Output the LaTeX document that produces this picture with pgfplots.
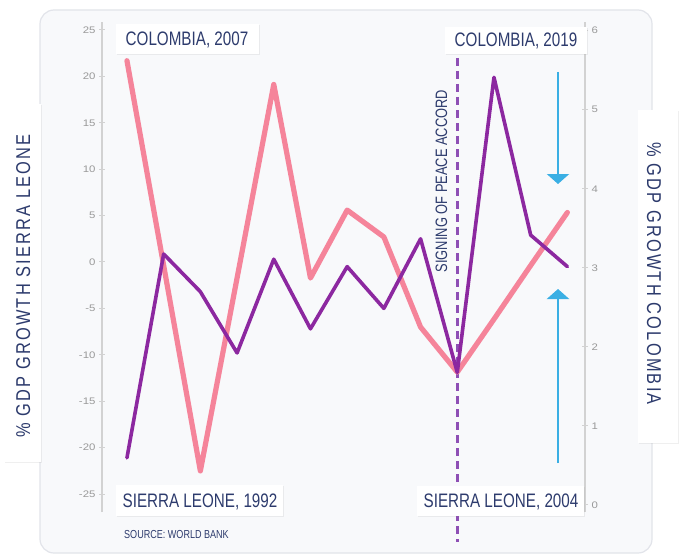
\documentclass[border=0pt]{standalone}
\usepackage{fontspec}
\setmainfont{Liberation Sans}[FakeStretch=0.78]
\newfontfamily\axfont{Liberation Sans}[FakeStretch=0.82,LetterSpace=11]
\newfontfamily\tickfont{Liberation Sans}[FakeStretch=1.2]
\usepackage{pgfplots}
\pgfplotsset{compat=1.18}
\usetikzlibrary{shadows,arrows.meta}
\definecolor{navy}{HTML}{2D3B6D}
\definecolor{pinkc}{HTML}{F5849A}
\definecolor{purplec}{HTML}{8C28A0}
\definecolor{dashc}{HTML}{8E4FB5}
\definecolor{bluec}{HTML}{3AAFE4}
\definecolor{tickgray}{HTML}{999999}
\definecolor{axisgray}{HTML}{D2D2D2}
\definecolor{cardbg}{HTML}{F8F9FB}
\definecolor{cardborder}{HTML}{E2E4EA}

\pgfplotstableread{
i v
0 -21.1
1 0.86
2 -3.2
3 -9.8
4 0.3
5 -7.2
6 -0.5
7 -5.0
8 2.5
9 -11.9
10 19.9
11 2.9
12 -0.5
}\sierra

\pgfplotstableread{
i v
0 5.62
1 3.03
2 0.43
3 2.87
4 5.32
5 2.87
6 3.73
7 3.39
8 2.25
9 1.68
10 2.35
11 3.03
12 3.70
}\colombia

\pgfplotsset{
  common/.style={
    at={(102pt,-512pt)}, anchor=south west,
    width=483pt, height=490pt, scale only axis,
    xmin=-0.68, xmax=12.48,
    axis x line=none,
    tick align=outside, major tick length=6pt,
    ytick style={draw=axisgray, line width=1pt},
    yticklabel style={font=\tickfont\fontsize{9.5}{10}\selectfont, text=tickgray},
    /pgf/number format/assume math mode=true,
    clip=false,
  },
  lineoff/.style={
    y axis line style={-, draw=axisgray, line width=1.2pt},
    every outer y axis line/.append style={-, draw=axisgray, line width=1.2pt},
    every inner y axis line/.append style={-},
  }
}

\begin{document}
\begin{tikzpicture}[x=1pt,y=1pt]
\useasboundingbox (0,0) rectangle (684,-559);
\fill[white] (0,0) rectangle (684,-559);
\draw[cardborder, fill=cardbg, rounded corners=14pt, line width=1.2pt] (40,-10) rectangle (652,-553);

% dashed line (peace accord)
\draw[dashc, line width=2.5pt, dash pattern=on 8pt off 5pt] (457.5,-32) -- (457.5,-542);

% Colombia, right axis
\begin{axis}[common, ymin=-0.09, ymax=6.11, axis y line=right, ytick pos=right, ytick={0,1,2,3,4,5,6}, lineoff]
\addplot[pinkc, line width=5.2pt, line cap=round, line join=round] table[x=i,y=v] {\colombia};
\end{axis}

% Sierra Leone, left axis
\begin{axis}[common, ymin=-26.94, ymax=25.86, axis y line=left, ytick pos=left, ytick={-25,-20,...,25}, lineoff]
\addplot[purplec, line width=3.6pt, line cap=round, line join=round] table[x=i,y=v] {\sierra};
\end{axis}

% blue arrows
\draw[bluec, line width=2.5pt, -{Triangle[width=22pt,length=10pt]}] (558,-72) -- (558,-184);
\draw[bluec, line width=2.5pt, -{Triangle[width=22pt,length=10pt]}] (558,-463) -- (558,-289);

% peace accord label
\node[rotate=90, anchor=base, text=navy, font=\fontsize{16.5}{18}\selectfont] at (447,-181) {SIGNING OF PEACE ACCORD};

% corner labels
\tikzset{lbl/.style={fill=white, draw=none, drop shadow={opacity=0.12, shadow xshift=1pt, shadow yshift=-1pt}}}
\path[lbl] (116,-24) rectangle (259,-54);
\node[anchor=base, text=navy, font=\fontsize{19.5}{21}\selectfont] at (187,-46) {COLOMBIA, 2007};
\path[lbl] (445,-27) rectangle (587,-54);
\node[anchor=base, text=navy, font=\fontsize{19.5}{21}\selectfont] at (516,-47) {COLOMBIA, 2019};
\path[lbl] (116,-485) rectangle (283,-516);
\node[anchor=base, text=navy, font=\fontsize{19.5}{21}\selectfont] at (200,-507) {SIERRA LEONE, 1992};
\path[lbl] (417,-486) rectangle (584,-516);
\node[anchor=base, text=navy, font=\fontsize{19.5}{21}\selectfont] at (501,-507) {SIERRA LEONE, 2004};

\node[anchor=base west, text=navy, font=\fontsize{11.6}{13}\selectfont, inner sep=0pt] at (124,-538) {SOURCE: WORLD BANK};

% axis labels
\path[lbl] (4,-104) rectangle (41,-462);
\node[rotate=90, anchor=base, text=navy, font=\axfont\fontsize{20}{21}\selectfont] at (30,-286) {\% GDP GROWTH SIERRA LEONE};
\path[lbl] (638,-110) rectangle (678,-443);
\node[rotate=-90, anchor=base, text=navy, font=\axfont\fontsize{20}{21}\selectfont] at (647,-273.5) {\% GDP GROWTH COLOMBIA};
\end{tikzpicture}
\end{document}
